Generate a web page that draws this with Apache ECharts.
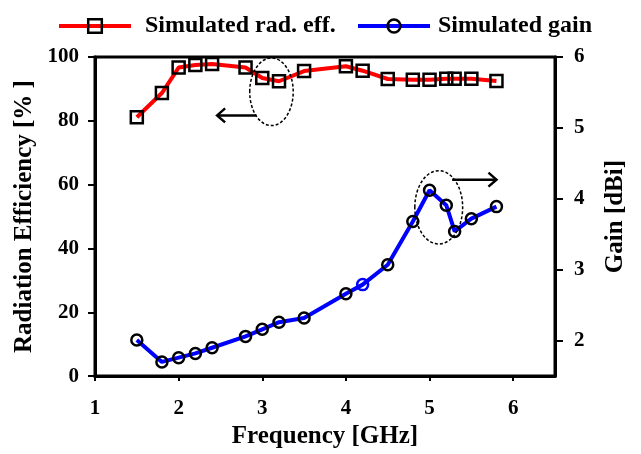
<!DOCTYPE html>
<html>
<head>
<meta charset="utf-8">
<style>
  html, body { margin: 0; padding: 0; background: #fff; }
  #chart { width: 641px; height: 454px; }
</style>
<script src="https://cdn.jsdelivr.net/npm/echarts@6/dist/echarts.min.js"></script>
</head>
<body>
<div id="chart"></div>
<script>
// Frequency sweep points (GHz)
const frequency = [1.5, 1.8, 2.0, 2.2, 2.4, 2.8, 3.0, 3.2, 3.5, 4.0, 4.2, 4.5, 4.8, 5.0, 5.2, 5.3, 5.5, 5.8];
// Simulated radiation efficiency (%)
const radEfficiency = [81.1, 88.7, 96.7, 97.5, 97.8, 96.7, 93.4, 92.4, 95.6, 97.1, 95.7, 93.1, 92.9, 92.9, 93.2, 93.2, 93.2, 92.5];
// Simulated gain (dBi)
const gain = [2.01, 1.70, 1.76, 1.82, 1.90, 2.06, 2.16, 2.26, 2.32, 2.66, 2.79, 3.07, 3.68, 4.12, 3.91, 3.54, 3.72, 3.89];

const freqTicks = [1, 2, 3, 4, 5, 6];
const gainTicks = [2, 3, 4, 5, 6];
const seriesNames = ['Simulated rad. eff.', 'Simulated gain'];

const FONT = '"Liberation Serif", "Times New Roman", serif';
const chart = echarts.init(document.getElementById('chart'), null, { renderer: 'canvas' });

const labelStyle = { color: '#000', fontFamily: FONT, fontWeight: 'bold', fontSize: 21 };
const titleStyle = { color: '#000', fontFamily: FONT, fontWeight: 'bold', fontSize: 25 };
const axisLine = { show: true, onZero: false, lineStyle: { color: '#000', width: 3 } };

const effData = frequency.map((f, i) => [f, radEfficiency[i]]);
// the 4.2 GHz gain sample is drawn with a blue outline
const blueOutlineIndex = 10;
const gainData = frequency.map((f, i) => {
  const p = { value: [f, gain[i]] };
  if (i === blueOutlineIndex) p.itemStyle = { borderColor: '#0000ff' };
  return p;
});

function legendEntry(name, left, height, textGap) {
  return {
    left: left, top: 9,
    itemWidth: 72, itemHeight: height,
    lineStyle: { width: 4 },
    itemStyle: { borderWidth: 2.5 },
    textStyle: { color: '#000', fontFamily: FONT, fontWeight: 'bold', fontSize: 24, padding: [0, 0, 0, textGap] },
    data: [name]
  };
}

chart.setOption({
  animation: false,
  backgroundColor: '#fff',
  grid: { left: 95, right: 86, top: 57, bottom: 75, show: true, borderColor: '#000', borderWidth: 3, backgroundColor: 'transparent' },
  legend: [legendEntry(seriesNames[0], 52, 17, 9), legendEntry(seriesNames[1], 351, 16, 3)],
  xAxis: {
    type: 'value', min: 1, max: 6.5,
    name: 'Frequency [GHz]', nameLocation: 'middle', nameGap: 47, nameTextStyle: titleStyle,
    axisLine: axisLine,
    axisTick: { show: true, length: 5, customValues: freqTicks, lineStyle: { color: '#000', width: 2 } },
    axisLabel: Object.assign({ margin: 22, customValues: freqTicks }, labelStyle),
    splitLine: { show: false }
  },
  yAxis: [
    {
      type: 'value', min: 0, max: 100, interval: 20, position: 'left',
      name: 'Radiation Efficiency [% ]', nameLocation: 'middle', nameRotate: 90, nameGap: 54, nameTextStyle: titleStyle,
      axisLine: axisLine,
      axisTick: { show: true, length: 7, lineStyle: { color: '#000', width: 2 } },
      axisLabel: Object.assign({ margin: 16 }, labelStyle),
      splitLine: { show: false }
    },
    {
      type: 'value', min: 1.5, max: 6, position: 'right',
      name: 'Gain [dBi]', nameLocation: 'middle', nameRotate: 90, nameGap: 48, nameTextStyle: titleStyle,
      axisLine: axisLine,
      axisTick: { show: true, length: 8, customValues: gainTicks, lineStyle: { color: '#000', width: 2 } },
      axisLabel: Object.assign({ margin: 19, customValues: gainTicks }, labelStyle),
      splitLine: { show: false }
    }
  ],
  series: [
    {
      name: seriesNames[0], type: 'line', yAxisIndex: 0, data: effData,
      symbol: 'rect', symbolSize: 12, showAllSymbol: true,
      lineStyle: { color: '#ff0000', width: 4 },
      itemStyle: { color: 'rgba(0,0,0,0)', borderColor: '#000', borderWidth: 2.5 },
      z: 3
    },
    {
      name: seriesNames[1], type: 'line', yAxisIndex: 1, data: gainData,
      symbol: 'circle', symbolSize: 11, showAllSymbol: true,
      lineStyle: { color: '#0000ff', width: 4 },
      itemStyle: { color: 'rgba(0,0,0,0)', borderColor: '#000', borderWidth: 2.5 },
      z: 4
    }
  ]
});

// Callouts: dashed ellipses around the dips and arrows pointing to each curve's axis.
// Positions are given in data units of the related y axis.
const callouts = [
  { axis: 0, cx: 3.11, cy: 89.1, rx: 0.26, ry: 10.6, arrowFrom: [2.93, 81.7], arrowTo: [2.46, 81.7] },
  { axis: 1, cx: 5.11, cy: 3.88, rx: 0.286, ry: 0.517, arrowFrom: [5.27, 4.27], arrowTo: [5.80, 4.27] }
];

const graphics = [];
callouts.forEach(c => {
  const finder = { xAxisIndex: 0, yAxisIndex: c.axis };
  const center = chart.convertToPixel(finder, [c.cx, c.cy]);
  const edge = chart.convertToPixel(finder, [c.cx + c.rx, c.cy + c.ry]);
  graphics.push({
    type: 'ellipse', z: 10,
    shape: { cx: center[0], cy: center[1], rx: Math.abs(edge[0] - center[0]), ry: Math.abs(edge[1] - center[1]) },
    style: { fill: 'none', stroke: '#000', lineWidth: 1.5, lineDash: [3, 2] }
  });
  const a = chart.convertToPixel(finder, c.arrowFrom);
  const b = chart.convertToPixel(finder, c.arrowTo);
  const dir = Math.sign(b[0] - a[0]);
  graphics.push({
    type: 'polyline', z: 10,
    shape: { points: [a, b] },
    style: { stroke: '#000', lineWidth: 2.5, fill: 'none' }
  });
  graphics.push({
    type: 'polyline', z: 10,
    shape: { points: [[b[0] - dir * 8, b[1] - 7], b, [b[0] - dir * 8, b[1] + 7]] },
    style: { stroke: '#000', lineWidth: 2.5, fill: 'none' }
  });
});
chart.setOption({ graphic: graphics });
</script>
</body>
</html>
